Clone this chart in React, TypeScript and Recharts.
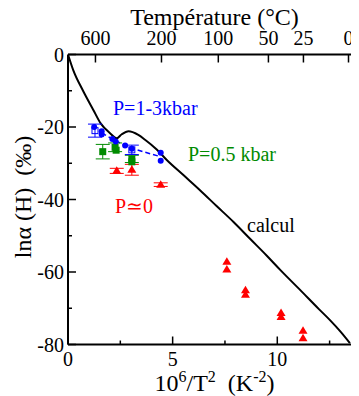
import React from 'react';
import { ComposedChart, Line, Scatter, XAxis, YAxis, ErrorBar } from 'recharts';

const FONT = "'Liberation Serif', 'Times New Roman', serif";

// "calcul" curve
const calcX = [0, 0.25, 0.7, 1.21, 1.56, 2.01, 2.33, 2.57, 2.89, 3.36, 3.68, 4.24, 4.72, 5.5, 6.32, 7.1, 7.91, 8.71, 9.5, 10.14, 11.1, 12.0, 12.54, 13.0, 13.47];
const calcY = [0, -4.3, -9.8, -15.3, -19.0, -21.7, -23.1, -22.0, -21.2, -22.2, -23.5, -26.2, -29.1, -33.2, -37.5, -41.8, -46.2, -50.9, -55.5, -59.4, -65.0, -70.3, -73.4, -76.3, -79.6];

// P=1-3 kbar (blue)
const blueCircX = [1.25, 1.61, 1.61, 2.12, 2.28, 2.73, 3.05, 4.43, 4.43];
const blueCircY = [-20.0, -21.2, -22.1, -23.3, -24.0, -25.1, -26.0, -27.1, -29.3];
const blueSqX = [1.29, 3.05];
const blueSqY = [-21.0, -26.3];
const blueSqErr = [1.8, 1.3];
const blueDashX = [1.61, 2.2, 2.73, 3.05, 4.43];
const blueDashY = [-21.6, -23.6, -25.1, -25.9, -28.2];

// P=0.5 kbar (green)
const greenX = [1.66, 2.25, 2.3, 3.05, 3.05];
const greenY = [-26.8, -25.6, -26.4, -28.8, -29.6];
const greenErr = [2.0, 1.2, 0, 1.0, 0];

// P~0 (red)
const redX = [2.33, 3.05, 4.43, 7.59, 7.59, 8.48, 8.48, 10.18, 10.18, 11.23, 11.23];
const redY = [-32.1, -31.8, -35.9, -57.2, -59.3, -65.0, -66.3, -71.3, -72.4, -76.2, -78.3];
const redErr = [0.7, 1.5, 0.5, 0, 0, 0, 0, 0, 0, 0, 0];

// axes
const xTicks = [0, 2.5, 5, 7.5, 10, 12.5];
const xLabels = [0, 5, 10];
const yTicks = [-80, -70, -60, -50, -40, -30, -20, -10, 0];
const yLabels = [-80, -60, -40, -20, 0];
const tempLabels = [600, 200, 100, 50, 25, 0];
const tempTicks = tempLabels.map((t) => 1e6 / Math.pow(t + 273.15, 2));

const zip = (xs: number[], ys: number[], es?: number[]) =>
  xs.map((x, i) => ({ x, y: ys[i], err: es ? es[i] : 0 }));

const calcData = zip(calcX, calcY);
const blueCircData = zip(blueCircX, blueCircY);
const blueSqData = zip(blueSqX, blueSqY, blueSqErr);
const blueDashData = zip(blueDashX, blueDashY);
const greenData = zip(greenX, greenY, greenErr);
const redData = zip(redX, redY, redErr);

const BLUE = '#0000ff';
const GREEN = '#008b00';
const RED = '#ff0000';

const BottomTick = (p: any) => {
  const { x, y, payload } = p;
  const v = payload.value;
  const major = xLabels.includes(v);
  return (
    <g>
      <line x1={x} y1={y} x2={x} y2={y - (major ? 8 : 4)} stroke="#000" strokeWidth={1.5} />
      {major && (
        <text x={x} y={y + 21} textAnchor="middle" fontSize={20} fontFamily={FONT} fill="#000">
          {v}
        </text>
      )}
    </g>
  );
};

const TopTick = (p: any) => {
  const { x, y, payload } = p;
  const t = Math.round(1000 / Math.sqrt(payload.value) - 273.15);
  return (
    <g>
      <line x1={x} y1={y} x2={x} y2={y + 8} stroke="#000" strokeWidth={1.5} />
      <text x={x} y={y - 9.5} textAnchor="middle" fontSize={20} fontFamily={FONT} fill="#000">
        {t}
      </text>
    </g>
  );
};

const LeftTick = (p: any) => {
  const { x, y, payload } = p;
  const v = payload.value;
  const major = yLabels.includes(v);
  return (
    <g>
      <line x1={x} y1={y} x2={x + (major ? 8 : 4)} y2={y} stroke="#000" strokeWidth={1.5} />
      {major && (
        <text x={x - 4} y={y + 7} textAnchor="end" fontSize={20} fontFamily={FONT} fill="#000">
          {v}
        </text>
      )}
    </g>
  );
};

const RightTick = (p: any) => {
  const { x, y, payload } = p;
  const major = yLabels.includes(payload.value);
  return <line x1={x} y1={y} x2={x - (major ? 8 : 4)} y2={y} stroke="#000" strokeWidth={1.5} />;
};

const Circle = (p: any) => <circle cx={p.cx} cy={p.cy} r={3} fill={BLUE} />;
const OpenSquare = (p: any) => (
  <rect x={p.cx - 3} y={p.cy - 3} width={6} height={6} fill="none" stroke={BLUE} strokeWidth={1} />
);
const GreenSquare = (p: any) => <rect x={p.cx - 3.5} y={p.cy - 3.5} width={7} height={7} fill={GREEN} />;
const Triangle = (p: any) => (
  <path d={`M${p.cx},${p.cy - 4.5} L${p.cx + 4.5},${p.cy + 3} L${p.cx - 4.5},${p.cy + 3} Z`} fill={RED} />
);

export default function App() {
  const axisLine = { stroke: '#000', strokeWidth: 2 };
  return (
    <div style={{ width: 351, height: 388, overflow: 'hidden' }}>
      <ComposedChart width={354} height={390} margin={{ top: 0, right: 0, bottom: 3.5, left: 0 }}>
        <XAxis
          dataKey="x"
          type="number"
          domain={[0, 14]}
          ticks={xTicks}
          interval={0}
          height={50}
          tickSize={0}
          tickMargin={0}
          tickLine={false}
          tick={BottomTick}
          axisLine={axisLine}
          allowDataOverflow
        />
        <XAxis
          xAxisId="top"
          dataKey="x"
          orientation="top"
          type="number"
          domain={[0, 14]}
          ticks={tempTicks}
          interval={0}
          height={46.5}
          tickSize={0}
          tickMargin={0}
          tickLine={false}
          tick={TopTick}
          axisLine={axisLine}
          allowDataOverflow
        />
        <YAxis
          dataKey="y"
          type="number"
          domain={[-80, 0]}
          ticks={yTicks}
          interval={0}
          width={60}
          tickSize={0}
          tickMargin={0}
          tickLine={false}
          tick={LeftTick}
          axisLine={axisLine}
          allowDataOverflow
        />
        <YAxis
          yAxisId="right"
          dataKey="y"
          orientation="right"
          type="number"
          domain={[-80, 0]}
          ticks={yTicks}
          interval={0}
          width={1}
          tickSize={0}
          tickMargin={0}
          tickLine={false}
          tick={RightTick}
          axisLine={axisLine}
          allowDataOverflow
        />
        <Line data={calcData} xAxisId="top" dataKey="y" type="monotone" stroke="#000" strokeWidth={2} dot={false} isAnimationActive={false} />
        <Line data={blueDashData} yAxisId="right" dataKey="y" type="linear" stroke={BLUE} strokeWidth={1.5} strokeDasharray="5 3" dot={false} isAnimationActive={false} />
        <Scatter data={redData} dataKey="y" shape={Triangle} isAnimationActive={false}>
          <ErrorBar dataKey="err" direction="y" width={7} stroke={RED} strokeWidth={1} />
        </Scatter>
        <Scatter data={greenData} dataKey="y" shape={GreenSquare} isAnimationActive={false}>
          <ErrorBar dataKey="err" direction="y" width={7} stroke={GREEN} strokeWidth={1} />
        </Scatter>
        <Scatter data={blueSqData} dataKey="y" shape={OpenSquare} isAnimationActive={false}>
          <ErrorBar dataKey="err" direction="y" width={7} stroke={BLUE} strokeWidth={1} />
        </Scatter>
        <Scatter data={blueCircData} dataKey="y" shape={Circle} isAnimationActive={false} />

        <text x={206.5} y={17} textAnchor="middle" fontSize={24} fontFamily={FONT} fill="#000">
          Température (°C)
        </text>
        <text x={206.5} y={383} textAnchor="middle" fontSize={24} fontFamily={FONT} fill="#000">
          10<tspan dy={-9} fontSize={16}>6</tspan>
          <tspan dy={9}>/T</tspan>
          <tspan dy={-9} fontSize={16}>2</tspan>
          <tspan dy={9}>{'\u00a0\u00a0(K'}</tspan>
          <tspan dy={-9} fontSize={16}>-2</tspan>
          <tspan dy={9}>)</tspan>
        </text>
        <text transform="translate(23,189) rotate(-90)" textAnchor="middle" fontSize={24} fontFamily={FONT} fill="#000">
          {'lnα (H)\u00a0\u00a0(‰)'}
        </text>
        <text x={105} y={106.5} fontSize={20} fontFamily={FONT} fill={BLUE}>P=1-3kbar</text>
        <text x={180} y={153} fontSize={20} fontFamily={FONT} fill={GREEN}>P=0.5 kbar</text>
        <text x={107} y={205} fontSize={20} fontFamily={FONT} fill={RED}>P≃0</text>
        <text x={239} y={224} fontSize={20} fontFamily={FONT} fill="#000">calcul</text>
      </ComposedChart>
    </div>
  );
}
